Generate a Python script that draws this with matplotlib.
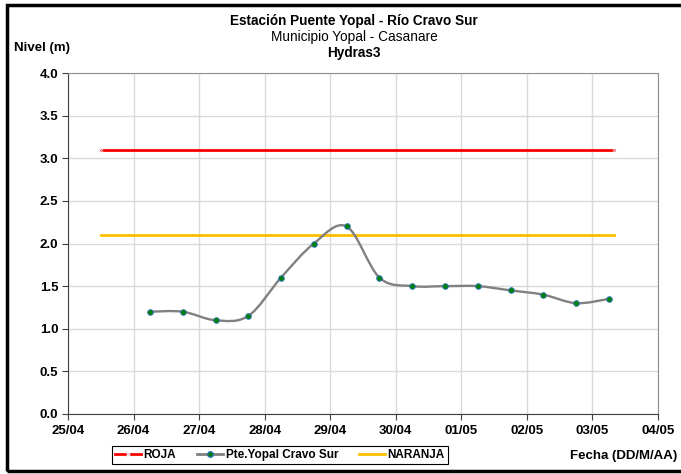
import datetime as dt
import matplotlib
matplotlib.use('Agg')
import matplotlib.pyplot as plt
import matplotlib.dates as mdates
from matplotlib.path import Path
from matplotlib.patches import PathPatch, Rectangle
from matplotlib.lines import Line2D

YEAR = 2024

# lecturas del sensor (cada 12 h)
FECHAS = ['26/04 06:00', '26/04 18:00', '27/04 06:00', '27/04 18:00',
          '28/04 06:00', '28/04 18:00', '29/04 06:00', '29/04 18:00',
          '30/04 06:00', '30/04 18:00', '01/05 06:00', '01/05 18:00',
          '02/05 06:00', '02/05 18:00', '03/05 06:00']
NIVEL = [1.20, 1.20, 1.10, 1.15, 1.60, 2.00, 2.20, 1.60,
         1.50, 1.50, 1.50, 1.45, 1.40, 1.30, 1.35]

# umbrales de alerta
UMBRAL_FECHAS = ['25/04 12:00', '03/05 08:00']
ROJA = 3.1
NARANJA = 2.1

XTICKS = ['25/04', '26/04', '27/04', '28/04', '29/04',
          '30/04', '01/05', '02/05', '03/05', '04/05']

TITULO = 'Estación Puente Yopal - Río Cravo Sur'
SUBTITULO = 'Municipio Yopal - Casanare'
ESTACION = 'Hydras3'


def to_num(s):
    return mdates.date2num(dt.datetime.strptime(f'{s}/{YEAR}', '%d/%m %H:%M/%Y'))


def tick_num(s):
    return mdates.date2num(dt.datetime.strptime(f'{s}/{YEAR}', '%d/%m/%Y'))


def smooth_path(x, y):
    # curva suavizada tipo Excel (bezier cubica)
    verts = [(x[0], y[0])]
    codes = [Path.MOVETO]
    n = len(x)
    for i in range(n - 1):
        xa, ya = (x[i - 1], y[i - 1]) if i > 0 else (x[i], y[i])
        xb, yb = (x[i + 2], y[i + 2]) if i + 2 < n else (x[i + 1], y[i + 1])
        c1 = (x[i] + (x[i + 1] - xa) / 6, y[i] + (y[i + 1] - ya) / 6)
        c2 = (x[i + 1] - (xb - x[i]) / 6, y[i + 1] - (yb - y[i]) / 6)
        verts += [c1, c2, (x[i + 1], y[i + 1])]
        codes += [Path.CURVE4] * 3
    return Path(verts, codes)


plt.rcParams['font.family'] = ['Liberation Sans', 'DejaVu Sans']

fig = plt.figure(figsize=(6.81, 4.74), dpi=100)
ax = fig.add_axes([68 / 681, 1 - 414 / 474, 590 / 681, 341 / 474])

x = [to_num(s) for s in FECHAS]
xu = [to_num(s) for s in UMBRAL_FECHAS]
xt = [tick_num(s) for s in XTICKS]

ax.plot(xu, [ROJA, ROJA], color='#FF0000', lw=2, zorder=3)
ax.plot(xu, [ROJA, ROJA], ls='none', marker='x', ms=3.5, mew=0.6,
        color='#F2DCE4', zorder=4)
ax.plot(xu, [NARANJA, NARANJA], color='#FFC000', lw=2, zorder=3)
ax.add_patch(PathPatch(smooth_path(x, NIVEL), fill=False, edgecolor='#808080',
                       lw=1.7, zorder=4))
ax.plot(x, NIVEL, ls='none', marker='o', ms=4, mfc='#008000', mec='#2E75B6',
        mew=0.7, zorder=5)

ax.set_xlim(xt[0], xt[-1])
ax.set_ylim(0, 4)
ax.set_xticks(xt)
ax.set_xticklabels(XTICKS)
ax.set_yticks([i * 0.5 for i in range(9)])
ax.set_yticklabels([f'{i * 0.5:.1f}' for i in range(9)])
ax.grid(True, color='#D9D9D9', lw=1)
ax.set_axisbelow(True)
ax.tick_params(length=4, width=0.8, color='#404040', labelsize=9.5)
ax.tick_params(axis='x', pad=4)
ax.tick_params(axis='y', pad=3)
for lab in ax.get_xticklabels() + ax.get_yticklabels():
    lab.set_fontweight('bold')
for side in ['left', 'bottom']:
    ax.spines[side].set_color('#404040')
for side in ['top', 'right']:
    ax.spines[side].set_color('#909090')

cx = 354 / 681
fig.text(cx, 1 - 21.5 / 474, TITULO, ha='center', va='center',
         fontsize=9.8, fontweight='bold')
fig.text(cx, 1 - 37.5 / 474, SUBTITULO, ha='center', va='center', fontsize=9.8)
fig.text(cx, 1 - 53 / 474, ESTACION, ha='center', va='center',
         fontsize=9.8, fontweight='bold')
fig.text(14 / 681, 1 - 48 / 474, 'Nivel (m)', ha='left', va='center',
         fontsize=9.5, fontweight='bold')
fig.text(677 / 681, 1 - 456 / 474, 'Fecha (DD/M/AA)', ha='right', va='center',
         fontsize=9.5, fontweight='bold')

handles = [
    Line2D([], [], color='#FF0000', lw=2, marker='x', ms=3.5, mec='#F2DCE4'),
    Line2D([], [], color='#808080', lw=2, marker='o', ms=4,
           mfc='#008000', mec='#2E75B6'),
    Line2D([], [], color='#FFC000', lw=2),
]
leg = fig.legend(handles, ['ROJA', 'Pte.Yopal Cravo Sur', 'NARANJA'],
                 loc='center', bbox_to_anchor=(280 / 681, 1 - 455 / 474), ncol=3,
                 fancybox=False, framealpha=1, edgecolor='black', borderpad=0.25,
                 handlelength=2.2, handletextpad=0.2, columnspacing=1.8,
                 prop={'weight': 'bold', 'size': 8.5})
leg.get_frame().set_linewidth(0.8)

fig.patches.append(Rectangle((7 / 681, 3 / 474), 1.2, 466 / 474,
                             transform=fig.transFigure, fill=False,
                             lw=2.5, ec='black'))

fig.savefig('out.png', dpi=100)
